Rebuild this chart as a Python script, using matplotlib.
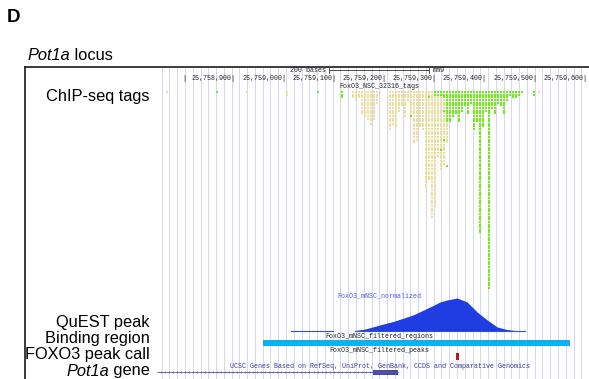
import numpy as np
import matplotlib
matplotlib.use("Agg")
import matplotlib.pyplot as plt

plt.rcParams['font.family'] = ['Liberation Sans', 'DejaVu Sans']

# --- genome browser data (chr coordinates, mm9) ---
ticks = [25758800, 25758900, 25759000, 25759100, 25759200, 25759300,
         25759400, 25759500, 25759600]
scale_bar = (25759087, 25759287)

# ChIP-seq tag stacks: column position and number of stacked tags
yellow_pos = [25758764, 25758924, 25759003, 25759135, 25759141, 25759147,
              25759153, 25759159, 25759165, 25759171, 25759176, 25759182,
              25759188, 25759208, 25759214, 25759220, 25759226, 25759232,
              25759238, 25759244, 25759250, 25759256, 25759262, 25759268,
              25759274, 25759280, 25759286, 25759292, 25759298, 25759304,
              25759310, 25759316, 25759322, 25759505]
yellow_depth = [1, 1, 2, 3, 4, 3, 9, 10, 11, 13, 11, 5, 1, 15, 13, 14, 8,
                6, 10, 4, 10, 20, 19, 14, 15, 37, 34, 48, 44, 25, 30, 28,
                20, 1]
green_pos = [25758864, 25759065, 25759113, 25759298, 25759304, 25759310,
             25759316, 25759322, 25759328, 25759334, 25759340, 25759346,
             25759352, 25759358, 25759364, 25759370, 25759376, 25759382,
             25759388, 25759394, 25759400, 25759406, 25759412, 25759418,
             25759424, 25759429, 25759435, 25759441, 25759447, 25759453,
             25759459, 25759465, 25759471, 25759495]
green_depth = [1, 1, 3, 2, 2, 2, 3, 12, 12, 10, 9, 12, 8, 6, 9, 5, 15, 12,
               54, 14, 8, 75, 7, 9, 5, 6, 9, 4, 2, 3, 3, 2, 1, 2]
# single green tags sitting inside the yellow stacks
extra_green_pos = [25759250, 25759286, 25759310, 25759316, 25759316, 25759322]
extra_green_row = [9, 2, 22, 7, 18, 28]

# QuEST normalized signal
quest_pos = [25759139, 25759159, 25759188, 25759218, 25759254, 25759288,
             25759308, 25759322, 25759342, 25759362, 25759382, 25759402,
             25759422, 25759441, 25759457, 25759477]
quest_val = [0.5, 2, 6, 10, 16, 24, 29, 31, 33, 29, 19, 11, 4, 1.5, 0.5, 0]
quest_flat = (25759011, 25759095)

binding_region = (25758955, 25759567)
peak_call = (25759340, 25759345)
gene_span = (25758744, 25759224)
gene_exon = (25759175, 25759224)

# track names on the left; (italic part, plain part)
track_labels = [("", "ChIP-seq tags"), ("", "QuEST peak"),
                ("", "Binding region"), ("", "FOXO3 peak call"),
                ("Pot1a", " gene")]
track_label_y = [97, 322, 339, 355, 371]

W, H = 589, 379
fig = plt.figure(figsize=(W / 100, H / 100), dpi=100)

# overlay axes in pixel units for frame and labels
fr = fig.add_axes([0, 0, 1, 1])
fr.set_xlim(0, W)
fr.set_ylim(H, 0)
fr.axis('off')

fr.text(7, 17, "D", fontsize=13.5, fontweight='bold', va='center', ha='left')
t = fr.text(27, 56, "Pot1a", fontsize=11.8, style='italic', va='center', ha='left')
fr.annotate(" locus", xy=(1, 0), xycoords=t, fontsize=11.8, va='bottom', ha='left')
for (it, plain), y in zip(track_labels, track_label_y):
    t = fr.text(150, y, plain, fontsize=11.8, va='center', ha='right')
    if it:
        fr.annotate(it, xy=(0, 0), xycoords=t, fontsize=11.8, style='italic',
                    va='bottom', ha='right')

# browser panel
top_px = 68
left_px = 156
gb = fig.add_axes([left_px / W, 0, (W - left_px) / W, (H - top_px) / H])
bp_per_px = 1.992
x0 = ticks[0] - (185 - left_px) * bp_per_px
x1 = ticks[0] + (W - 185) * bp_per_px
gb.set_xlim(x0, x1)
gb.set_ylim(H, top_px)
gb.axis('off')

# vertical grid
for gx in np.arange(ticks[0] - 3 * 15.48, x1, 15.48):
    gb.axvline(gx, color='#d6d6f6', lw=0.75, zorder=0)

mono = dict(family='Liberation Mono', fontsize=4.8, color='#222222')
cx = 25759188

# scale bar and base position labels
gb.plot(scale_bar, [70, 70], color='#333333', lw=0.6)
for sx in scale_bar:
    gb.plot([sx, sx], [68, 72.5], color='#333333', lw=0.6)
gb.text(scale_bar[0] - 6, 70, "200 bases", ha='right', va='center', **mono)
gb.text(scale_bar[1] + 6, 70, "mm9", ha='left', va='center', **mono)
for tk in ticks:
    lab = "|" if tk == ticks[0] else f"{tk:,}|"
    gb.text(tk + 1.5, 78.5, lab, ha='right', va='center', **mono)

# ChIP-seq tags
row0, pitch = 92, 2.65
yx, yy = [], []
for p, d in zip(yellow_pos, yellow_depth):
    yx += [p] * d
    yy += [row0 + r * pitch for r in range(d)]
gx_, gy_ = [], []
for p, d in zip(green_pos, green_depth):
    gx_ += [p] * d
    gy_ += [row0 + r * pitch for r in range(d)]
gx_ += extra_green_pos
gy_ += [row0 + r * pitch for r in extra_green_row]
gb.scatter(yx, yy, marker='s', s=2.8, color='#ecdf9e', linewidths=0, zorder=2)
gb.scatter(gx_, gy_, marker='s', s=2.8, color='#6cee12', linewidths=0, zorder=3)
gb.text(cx, 87, "FoxO3_NSC_32316_tags", ha='center', va='center', **mono)

# QuEST peak
base = 331
qy = [base - v for v in quest_val]
gb.fill_between(quest_pos, qy, base, color='#1f3de0', lw=0, zorder=2)
gb.plot([quest_pos[0], quest_pos[-1]], [base, base], color='#3050e0', lw=0.8)
gb.plot(quest_flat, [base, base], color='#3050e0', lw=0.8)
gb.text(cx, 296, "FoxO3_mNSC_normalized", ha='center', va='center',
        family='Liberation Mono', fontsize=4.8, color='#4b5bf0')

# binding region
gb.text(cx, 336.5, "FoxO3_mNSC_filtered_regions", ha='center', va='center', **mono)
gb.fill_between(binding_region, 339.5, 345.5, color='#0eb0f0', lw=0)

# FOXO3 peak call
gb.text(cx, 351, "FoxO3_mNSC_filtered_peaks", ha='center', va='center', **mono)
gb.fill_between(peak_call, 352.5, 360, color='#c8141a', lw=0)

# Pot1a gene
gb.text(cx, 366, "UCSC Genes Based on RefSeq, UniProt, GenBank, CCDS and Comparative Genomics",
        ha='center', va='center', family='Liberation Mono', fontsize=4.8,
        color='#3a3aa0')
gb.plot(gene_span, [372, 372], color='#5a5ab0', lw=0.6)
arrow_x = np.arange(gene_span[0] + 6, gene_exon[0], 8)
gb.scatter(arrow_x, [372] * len(arrow_x), marker=4, s=1.5,
           color='#5a5ab0', linewidths=0.3)
gb.fill_between(gene_exon, 370, 374.5, color='#4a4aa4', lw=0)

# panel frame
fr.plot([25, 25], [67, H], color='#1a1a1a', lw=1.2)
fr.plot([25, W], [67, 67], color='#1a1a1a', lw=1.2)

fig.savefig("out.png", dpi=100)
